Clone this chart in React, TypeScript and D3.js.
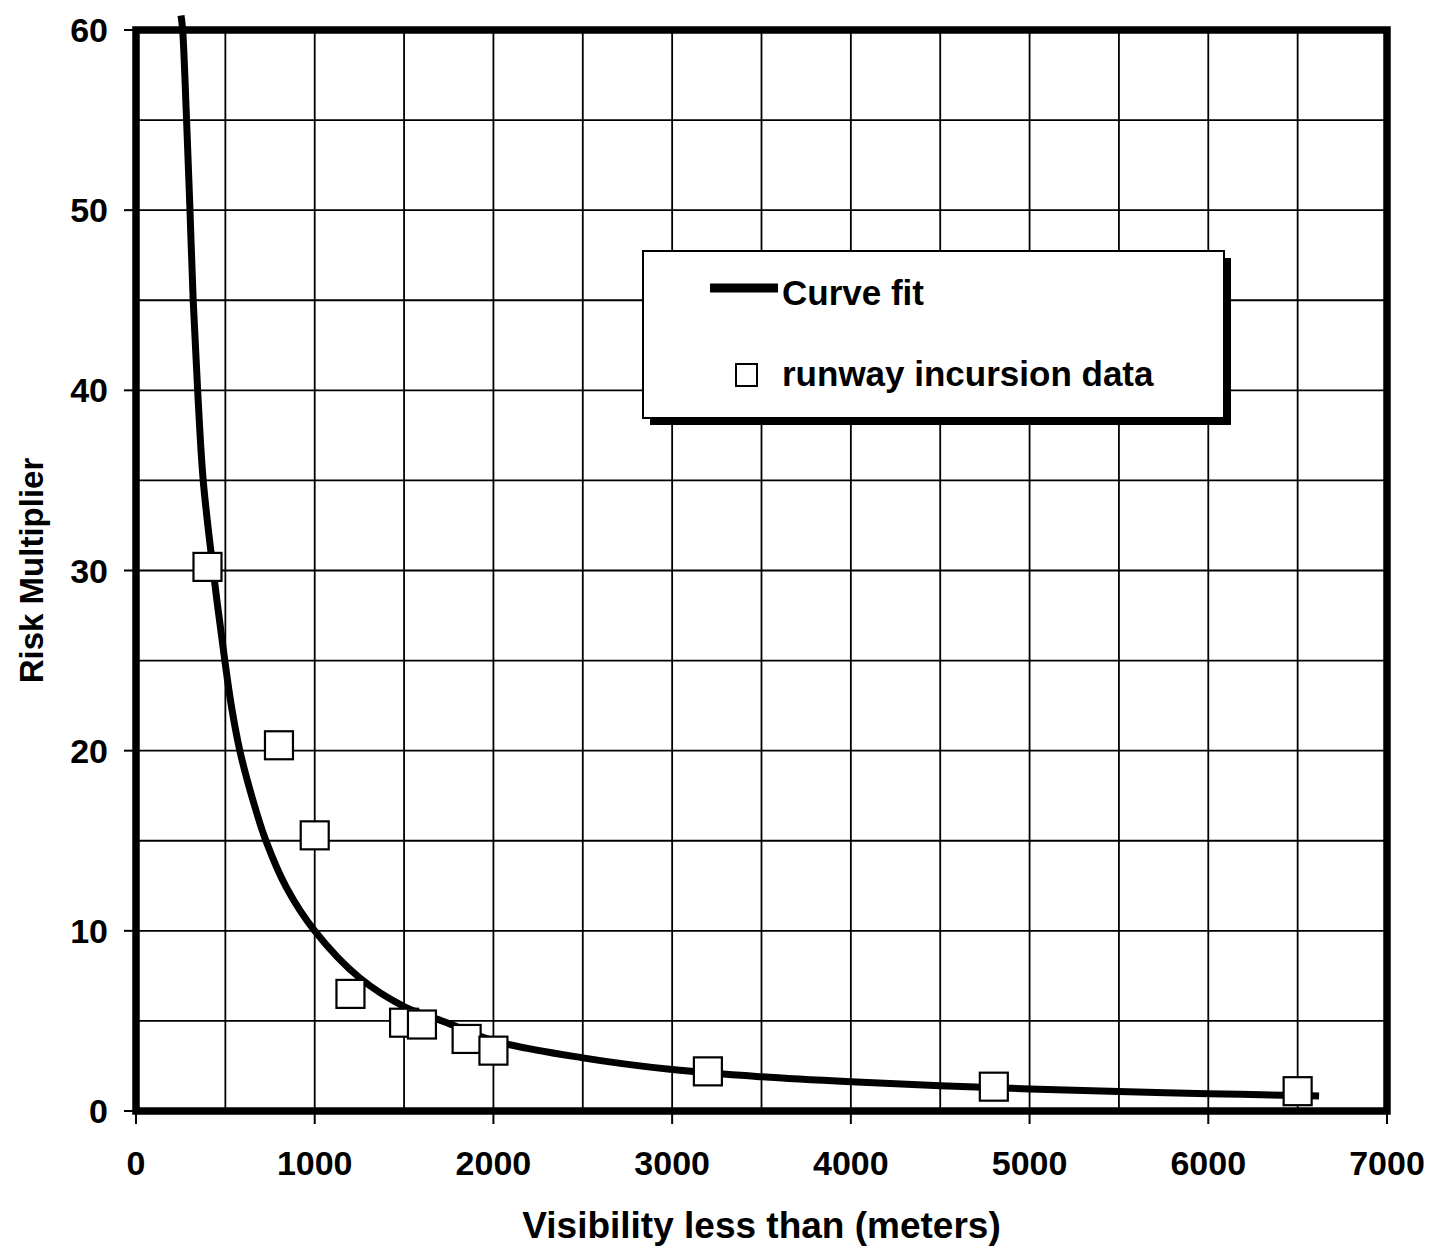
import { useEffect, useRef } from "react";
import * as d3 from "d3";

// runway incursion observations (visibility m, risk multiplier)
const dataVisibility = [400, 800, 1000, 1200, 1500, 1600, 1850, 2000, 3200, 4800, 6500];
const dataRisk = [30.2, 20.3, 15.3, 6.5, 4.9, 4.8, 4.0, 3.35, 2.2, 1.35, 1.1];

// curve fit
const fitVisibility = [
  252, 261, 283, 302, 320, 345, 376, 432, 497, 535, 581, 647, 727, 842, 1000, 1250, 1500,
  1740, 2000, 2500, 3000, 3500, 4000, 4500, 5000, 5500, 6000, 6500, 6620,
];
const fitRisk = [
  60.8, 60, 55, 50, 45, 40, 35, 30, 25, 22.4, 20, 17.5, 15, 12.4, 10, 7.4, 5.8,
  4.9, 3.9, 2.95, 2.3, 1.9, 1.62, 1.4, 1.22, 1.08, 0.96, 0.86, 0.83,
];

const xTicks = [0, 1000, 2000, 3000, 4000, 5000, 6000, 7000];
const yTicks = [0, 10, 20, 30, 40, 50, 60];
const xGrid = d3.range(0, 7001, 500);
const yGrid = d3.range(0, 61, 5);

const WIDTH = 1438;
const HEIGHT = 1253;
const FONT = "'Liberation Sans', Arial, sans-serif";

export default function App() {
  const svgRef = useRef<SVGSVGElement | null>(null);

  useEffect(() => {
    if (!svgRef.current) return;
    const margin = { top: 30, right: 51, bottom: 142, left: 136 };
    const x = d3.scaleLinear().domain([0, 7000]).range([margin.left, WIDTH - margin.right]);
    const y = d3.scaleLinear().domain([0, 60]).range([HEIGHT - margin.bottom, margin.top]);
    const [x0, x1] = x.range();
    const [y0, y1] = y.range();

    const svg = d3.select(svgRef.current);
    svg.selectAll("*").remove();
    svg.append("rect").attr("width", WIDTH).attr("height", HEIGHT).attr("fill", "#fff");

    // grid
    const grid = svg.append("g").attr("stroke", "#000").attr("stroke-width", 1.8);
    grid
      .selectAll("line.vx")
      .data(xGrid)
      .join("line")
      .attr("x1", (d) => x(d))
      .attr("x2", (d) => x(d))
      .attr("y1", y1)
      .attr("y2", y0);
    grid
      .selectAll("line.hy")
      .data(yGrid)
      .join("line")
      .attr("x1", x0)
      .attr("x2", x1)
      .attr("y1", (d) => y(d))
      .attr("y2", (d) => y(d));

    // ticks
    const ticks = svg.append("g").attr("stroke", "#000").attr("stroke-width", 2);
    ticks
      .selectAll("line.tx")
      .data(xTicks)
      .join("line")
      .attr("x1", (d) => x(d))
      .attr("x2", (d) => x(d))
      .attr("y1", y0)
      .attr("y2", y0 + 13);
    ticks
      .selectAll("line.ty")
      .data(yTicks)
      .join("line")
      .attr("x1", x0 - 12)
      .attr("x2", x0)
      .attr("y1", (d) => y(d))
      .attr("y2", (d) => y(d));

    // border
    svg
      .append("rect")
      .attr("x", x0)
      .attr("y", y1)
      .attr("width", x1 - x0)
      .attr("height", y0 - y1)
      .attr("fill", "none")
      .attr("stroke", "#000")
      .attr("stroke-width", 7.5);

    // tick labels
    svg
      .append("g")
      .selectAll("text")
      .data(xTicks)
      .join("text")
      .attr("x", (d) => x(d))
      .attr("y", y0 + 64)
      .attr("text-anchor", "middle")
      .attr("font-family", FONT)
      .attr("font-weight", "bold")
      .attr("font-size", 34)
      .text((d) => String(d));
    svg
      .append("g")
      .selectAll("text")
      .data(yTicks)
      .join("text")
      .attr("x", x0 - 28)
      .attr("y", (d) => y(d) + 12)
      .attr("text-anchor", "end")
      .attr("font-family", FONT)
      .attr("font-weight", "bold")
      .attr("font-size", 34)
      .text((d) => String(d));

    // axis titles
    svg
      .append("text")
      .attr("x", (x0 + x1) / 2)
      .attr("y", 1238)
      .attr("text-anchor", "middle")
      .attr("font-family", FONT)
      .attr("font-weight", "bold")
      .attr("font-size", 37)
      .text("Visibility less than (meters)");
    svg
      .append("text")
      .attr("transform", `translate(43,${(y0 + y1) / 2}) rotate(-90)`)
      .attr("text-anchor", "middle")
      .attr("font-family", FONT)
      .attr("font-weight", "bold")
      .attr("font-size", 33)
      .text("Risk Multiplier");

    // curve fit
    const fit = fitVisibility.map((v, i) => [v, fitRisk[i]] as [number, number]);
    const line = d3
      .line<[number, number]>()
      .x((d) => x(d[0]))
      .y((d) => y(d[1]))
      .curve(d3.curveCatmullRom.alpha(0.5));
    svg
      .append("path")
      .attr("d", line(fit))
      .attr("fill", "none")
      .attr("stroke", "#000")
      .attr("stroke-width", 7);

    // data markers
    const points = dataVisibility.map((v, i) => ({ v, r: dataRisk[i] }));
    const size = 28;
    svg
      .append("g")
      .selectAll("rect")
      .data(points)
      .join("rect")
      .attr("x", (d) => x(d.v) - size / 2)
      .attr("y", (d) => y(d.r) - size / 2)
      .attr("width", size)
      .attr("height", size)
      .attr("fill", "#fff")
      .attr("stroke", "#000")
      .attr("stroke-width", 2.2);

    // legend
    const lg = svg.append("g").attr("transform", "translate(643,251)");
    lg.append("rect").attr("x", 7).attr("y", 7).attr("width", 581).attr("height", 167).attr("fill", "#000");
    lg.append("rect")
      .attr("width", 581)
      .attr("height", 167)
      .attr("fill", "#fff")
      .attr("stroke", "#000")
      .attr("stroke-width", 2);
    lg.append("line")
      .attr("x1", 67)
      .attr("x2", 135)
      .attr("y1", 37)
      .attr("y2", 37)
      .attr("stroke", "#000")
      .attr("stroke-width", 9);
    lg.append("text")
      .attr("x", 139)
      .attr("y", 54)
      .attr("font-family", FONT)
      .attr("font-weight", "bold")
      .attr("font-size", 35)
      .text("Curve fit");
    lg.append("rect")
      .attr("x", 93)
      .attr("y", 113)
      .attr("width", 21)
      .attr("height", 22)
      .attr("fill", "#fff")
      .attr("stroke", "#000")
      .attr("stroke-width", 2);
    lg.append("text")
      .attr("x", 139)
      .attr("y", 135)
      .attr("font-family", FONT)
      .attr("font-weight", "bold")
      .attr("font-size", 35)
      .text("runway incursion data");
  }, []);

  return (
    <svg
      ref={svgRef}
      width={WIDTH}
      height={HEIGHT}
      style={{ position: "absolute", left: 0, top: 0, display: "block" }}
    />
  );
}
